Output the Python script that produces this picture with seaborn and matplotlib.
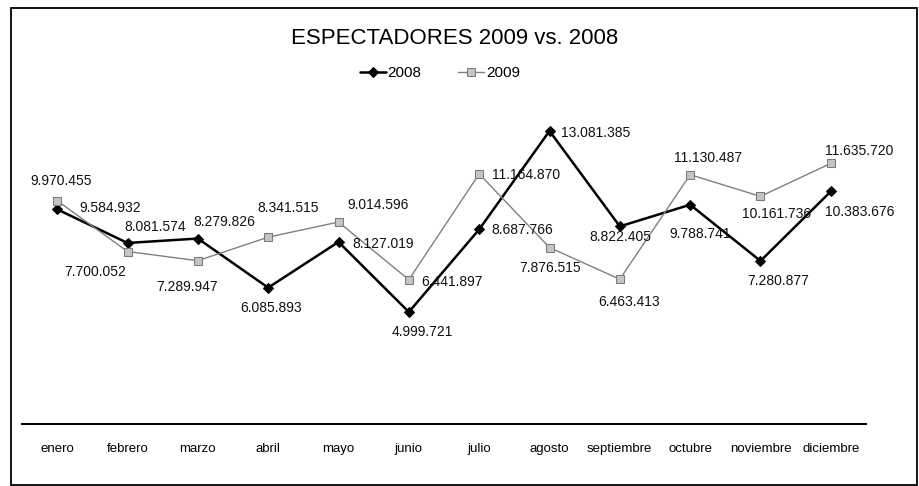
import matplotlib
matplotlib.use('Agg')
import matplotlib.pyplot as plt
from matplotlib.patches import Rectangle
import seaborn as sns
import pandas as pd

meses = ['enero', 'febrero', 'marzo', 'abril', 'mayo', 'junio', 'julio',
         'agosto', 'septiembre', 'octubre', 'noviembre', 'diciembre']
v2008 = [9584932, 8081574, 8279826, 6085893, 8127019, 4999721,
         8687766, 13081385, 8822405, 9788741, 7280877, 10383676]
v2009 = [9970455, 7700052, 7289947, 8341515, 9014596, 6441897,
         11164870, 7876515, 6463413, 11130487, 10161736, 11635720]

# label offsets in pixels (dx, dy up)
off2008 = [(53, 1), (28, 16), (26, 17), (3, -20), (45, -2), (13, -20),
           (43, -1), (46, -2), (1, -11), (10, -29), (18, -20), (29, -21)]
off2009 = [(4, 20), (-32, -20), (-11, -26), (20, 29), (40, 17), (43, -2),
           (47, -1), (1, -20), (9, -23), (18, 17), (16, -18), (28, 12)]

sns.set_style('white')
plt.rcParams['font.family'] = ['Liberation Sans', 'DejaVu Sans']
plt.rcParams['text.color'] = 'black'
plt.rcParams['xtick.color'] = 'black'

df = pd.DataFrame({'mes': meses, '2008': v2008, '2009': v2009})

fig = plt.figure(figsize=(9.19, 4.86), dpi=100)
ax = fig.add_axes([22/919, 62/486, 844/919, 313.6/486])

sns.lineplot(data=df, x='mes', y='2008', ax=ax, color='black', linewidth=1.8,
             marker='D', markersize=5, markeredgecolor='black', label='2008', sort=False)
sns.lineplot(data=df, x='mes', y='2009', ax=ax, color='#808080', linewidth=1.0,
             marker='s', markersize=6, markerfacecolor='#c4c4c4',
             markeredgecolor='#7a7a7a', label='2009', sort=False)

fmt = lambda v: f'{v:,}'.replace(',', '.')
for i, v in enumerate(v2008):
    ax.annotate(fmt(v), (i, v), xytext=off2008[i], textcoords='offset pixels',
                ha='center', va='center', fontsize=10, color='#111111')
for i, v in enumerate(v2009):
    ax.annotate(fmt(v), (i, v), xytext=off2009[i], textcoords='offset pixels',
                ha='center', va='center', fontsize=10, color='#111111')

ax.set_xlim(-0.5, len(meses) - 0.5)
ax.set_ylim(0, 14e6)
ax.set_xlabel('')
ax.set_ylabel('')
ax.set_yticks([])
for s in ['left', 'right', 'top']:
    ax.spines[s].set_visible(False)
ax.spines['bottom'].set_color('black')
ax.spines['bottom'].set_linewidth(1.5)
ax.tick_params(axis='x', length=0, pad=14, labelsize=9.5, labelcolor='black')

leg = ax.legend(loc='center', bbox_to_anchor=(440/919, 1 - 73/486),
                bbox_transform=fig.transFigure, ncol=2, frameon=False,
                fontsize=11, handlelength=1.7, handletextpad=0.1, columnspacing=2.4)
for t in leg.get_texts():
    t.set_color('black')

fig.text(455/919, 1 - 38/486, 'ESPECTADORES 2009 vs. 2008', ha='center',
         va='center', fontsize=16, color='black')

fig.patches.append(Rectangle((11/919, 1/486), 906/919, 477/486, transform=fig.transFigure,
                             fill=False, edgecolor='black', linewidth=1.3))

plt.savefig('out.png', dpi=100)
